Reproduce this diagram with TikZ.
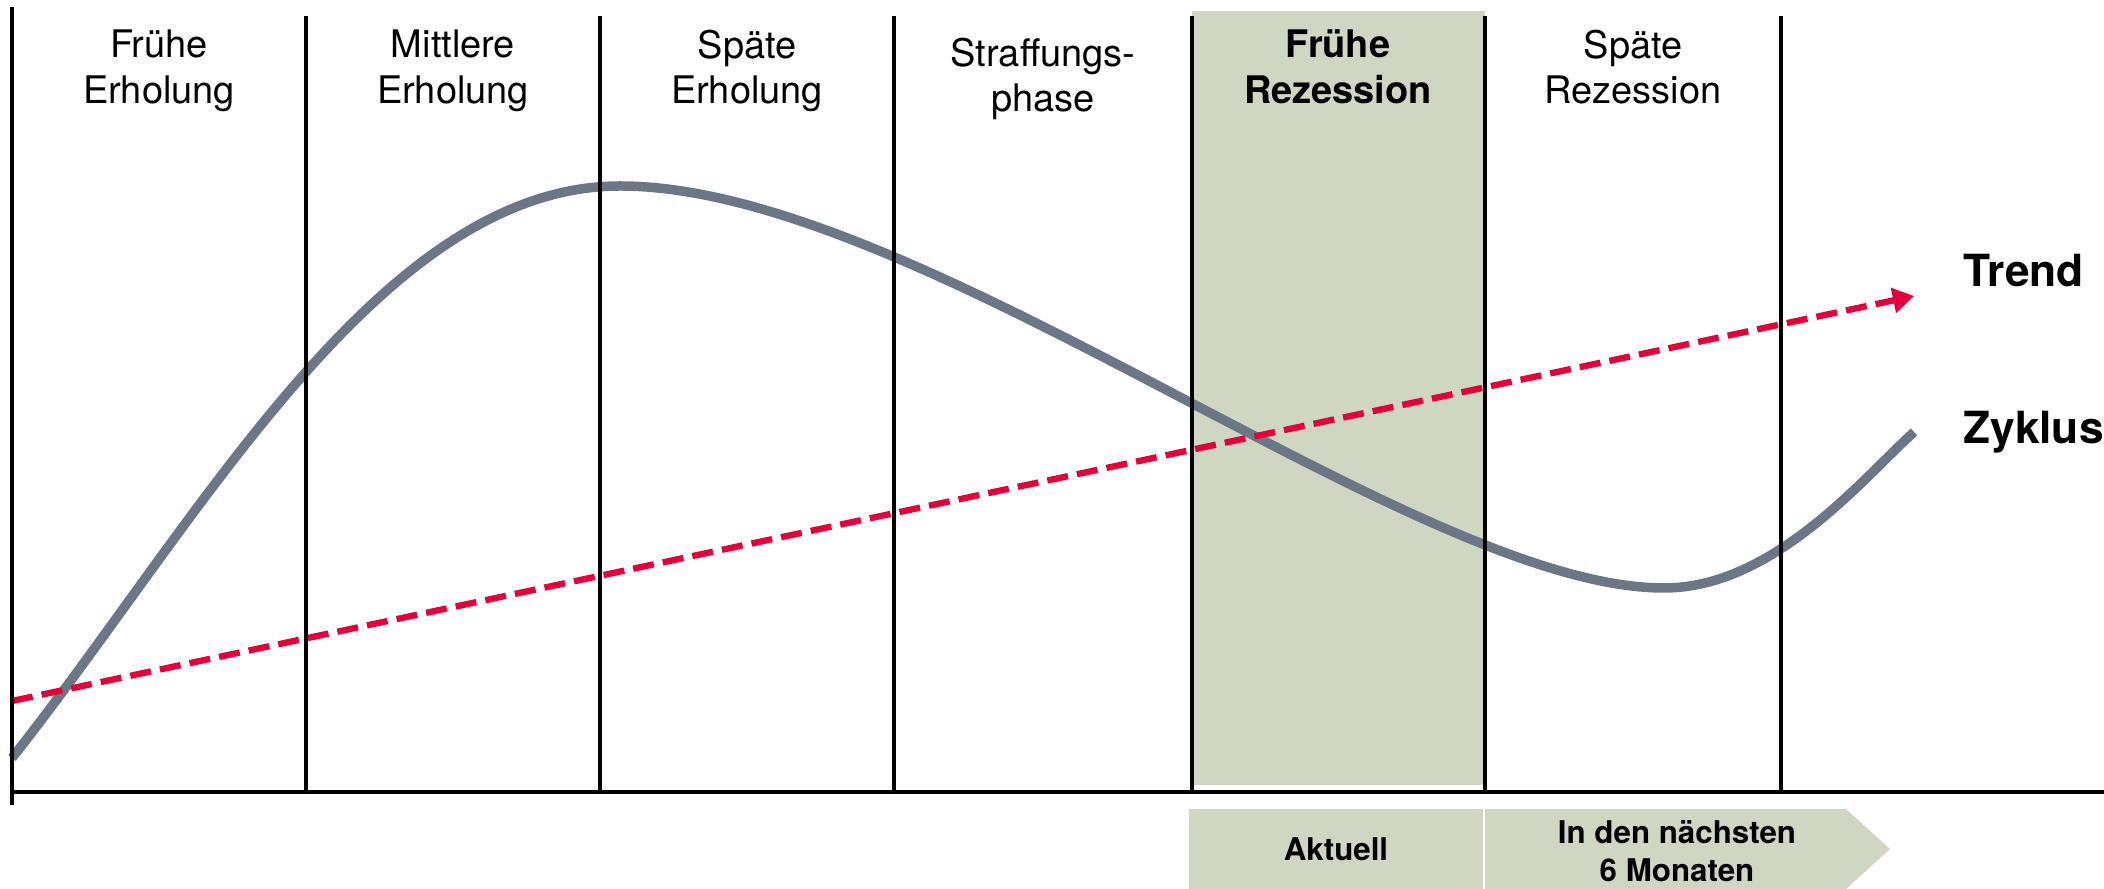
\documentclass[tikz,border=0pt]{standalone}
\usepackage{fontspec}
\setmainfont{TeX Gyre Heros}
\usetikzlibrary{arrows.meta}
\definecolor{zyklusgrau}{RGB}{107,119,135}
\definecolor{trendrot}{RGB}{227,0,58}
\definecolor{phasegruen}{RGB}{207,215,194}

\begin{document}
\begin{tikzpicture}[x=0.01cm, y=-0.01cm,
  phase/.style={anchor=north, inner sep=0pt, align=center, font=\fontsize{10.8}{13}\selectfont},
  phasebold/.style={phase, font=\fontsize{10.8}{13}\selectfont\bfseries},
  divider/.style={line width=1pt, black},
  axis/.style={line width=1.3pt, black},
  zyklus/.style={line width=2.7pt, zyklusgrau},
  trend/.style={line width=1.8pt, trendrot, dash pattern=on 6pt off 2.6pt,
                -{Triangle[length=6pt, width=7pt]}},
  legend/.style={anchor=base west, inner sep=0pt, font=\fontsize{12.6}{15}\selectfont\bfseries},
  zeit/.style={inner sep=0pt, align=center, font=\fontsize{8.9}{10.8}\selectfont\bfseries}
]
  \useasboundingbox (0,0) rectangle (2104,889);

  % current phase
  \fill[phasegruen] (1192,11) rectangle (1485,785);

  \coordinate (zstart) at (12,758);
  \coordinate (zpeak) at (620,186);
  \coordinate (zlow) at (1664,588);
  \coordinate (zend) at (1914,432);
  \draw[zyklus] (zstart) .. controls (200,520) and (380,186) .. (zpeak)
    .. controls (920,186) and (1414,588) .. (zlow)
    .. controls (1774,588) and (1864,477) .. (zend);

  \coordinate (tstart) at (12,701);
  \coordinate (tend) at (1914,296);
  \draw[trend] (tstart) -- (tend);

  \foreach \x in {306,600,894,1192,1485,1781}
    \draw[divider] (\x,16) -- (\x,792);
  \draw[divider] (12,7) -- (12,805);
  \draw[axis] (12,792) -- (2104,792);

  \node[phase] (p1) at (159,29) {Frühe\\Erholung};
  \node[phase] (p2) at (453,29) {Mittlere\\Erholung};
  \node[phase] (p3) at (747,29) {Späte\\Erholung};
  \node[phase] (p4) at (1043,37) {Straffungs-\\phase};
  \node[phasebold] (p5) at (1338,29) {Frühe\\Rezession};
  \node[phase] (p6) at (1633,29) {Späte\\Rezession};

  \node[legend] (trendlabel) at (1963,287) {Trend};
  \node[legend] (zykluslabel) at (1963,444) {Zyklus};

  % time arrow
  \fill[phasegruen] (1189,809) -- (1846,809) -- (1890,849) -- (1846,889) -- (1189,889) -- cycle;
  \draw[white, line width=0.6pt] (1484,809) -- (1484,889);
  \node[zeit] (aktuell) at (1336,849) {Aktuell};
  \node[zeit] (naechste) at (1677,851) {In den nächsten\\6 Monaten};
\end{tikzpicture}
\end{document}
